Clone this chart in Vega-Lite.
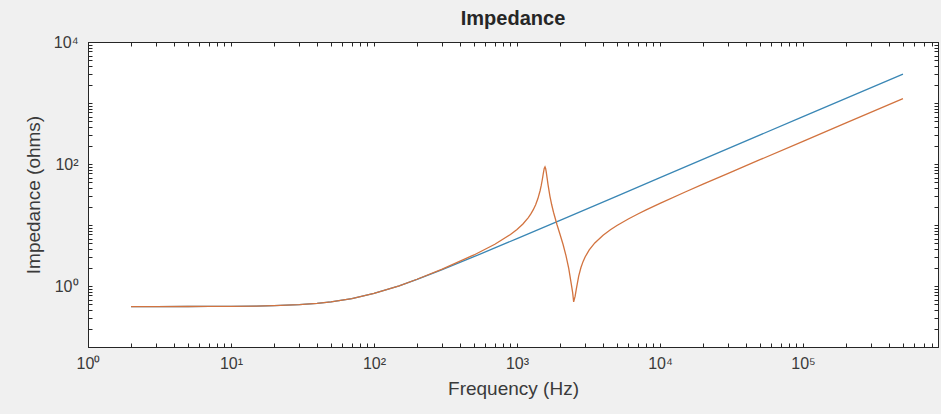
{
  "$schema": "https://vega.github.io/schema/vega-lite/v6.json",
  "width": 850,
  "height": 305,
  "autosize": "none",
  "padding": {"left": 88, "top": 42, "right": 3, "bottom": 67},
  "background": "#f0f0f0",
  "title": {"text": "Impedance", "font": "Liberation Sans", "fontSize": 20, "fontWeight": "bold", "color": "#262626", "offset": 5},
  "config": {
    "view": {"fill": "white", "stroke": "#262626", "strokeWidth": 1},
    "axis": {
      "labelFont": "Liberation Sans", "titleFont": "Liberation Sans",
      "labelFontSize": 16, "titleFontSize": 19, "titleFontWeight": "normal",
      "labelColor": "#3a3a3a", "titleColor": "#3a3a3a",
      "domainColor": "#262626", "tickColor": "#262626",
      "grid": false, "tickSize": -4, "labelOverlap": false, "labelFlush": false
    }
  },
  "data": {"values": [
    {"series": "A", "f": 2, "z": 0.4601}, {"series": "A", "f": 3, "z": 0.4603}, {"series": "A", "f": 5, "z": 0.461},
    {"series": "A", "f": 7, "z": 0.4619}, {"series": "A", "f": 10, "z": 0.4639}, {"series": "A", "f": 15, "z": 0.4686},
    {"series": "A", "f": 20, "z": 0.4753}, {"series": "A", "f": 30, "z": 0.4936}, {"series": "A", "f": 40, "z": 0.5183},
    {"series": "A", "f": 50, "z": 0.5484}, {"series": "A", "f": 70, "z": 0.6214}, {"series": "A", "f": 100, "z": 0.7536},
    {"series": "A", "f": 150, "z": 1.0066}, {"series": "A", "f": 200, "z": 1.2795}, {"series": "A", "f": 300, "z": 1.849},
    {"series": "A", "f": 500, "z": 3.02}, {"series": "A", "f": 700, "z": 4.203}, {"series": "A", "f": 1000, "z": 5.987},
    {"series": "A", "f": 2000, "z": 11.95}, {"series": "A", "f": 5000, "z": 29.85}, {"series": "A", "f": 10000, "z": 59.69},
    {"series": "A", "f": 100000, "z": 596.9}, {"series": "A", "f": 500000, "z": 2984.5},
    {"series": "B", "f": 2, "z": 0.4601}, {"series": "B", "f": 3, "z": 0.4603}, {"series": "B", "f": 5, "z": 0.461},
    {"series": "B", "f": 7, "z": 0.4619}, {"series": "B", "f": 10, "z": 0.4639}, {"series": "B", "f": 15, "z": 0.4686},
    {"series": "B", "f": 20, "z": 0.4753}, {"series": "B", "f": 30, "z": 0.4936}, {"series": "B", "f": 40, "z": 0.5183},
    {"series": "B", "f": 50, "z": 0.5484}, {"series": "B", "f": 70, "z": 0.6214}, {"series": "B", "f": 100, "z": 0.7536},
    {"series": "B", "f": 150, "z": 1.0066}, {"series": "B", "f": 200, "z": 1.2905}, {"series": "B", "f": 300, "z": 1.889},
    {"series": "B", "f": 500, "z": 3.227}, {"series": "B", "f": 700, "z": 4.836}, {"series": "B", "f": 900, "z": 6.987},
    {"series": "B", "f": 1000, "z": 8.452}, {"series": "B", "f": 1100, "z": 10.4}, {"series": "B", "f": 1200, "z": 13.22},
    {"series": "B", "f": 1250, "z": 15.2}, {"series": "B", "f": 1300, "z": 17.83}, {"series": "B", "f": 1350, "z": 21.52},
    {"series": "B", "f": 1400, "z": 27.1}, {"series": "B", "f": 1450, "z": 36.43}, {"series": "B", "f": 1475, "z": 43.76},
    {"series": "B", "f": 1500, "z": 54.14}, {"series": "B", "f": 1515, "z": 62.29}, {"series": "B", "f": 1530, "z": 71.82},
    {"series": "B", "f": 1550, "z": 84.4}, {"series": "B", "f": 1570, "z": 89.54}, {"series": "B", "f": 1585, "z": 84.74},
    {"series": "B", "f": 1600, "z": 75.08}, {"series": "B", "f": 1625, "z": 58.02}, {"series": "B", "f": 1650, "z": 45.07},
    {"series": "B", "f": 1700, "z": 29.58}, {"series": "B", "f": 1750, "z": 21.26}, {"series": "B", "f": 1800, "z": 16.18},
    {"series": "B", "f": 1900, "z": 10.3}, {"series": "B", "f": 2000, "z": 6.973}, {"series": "B", "f": 2100, "z": 4.79},
    {"series": "B", "f": 2200, "z": 3.15}, {"series": "B", "f": 2300, "z": 1.95}, {"series": "B", "f": 2400, "z": 1.05},
    {"series": "B", "f": 2450, "z": 0.78}, {"series": "B", "f": 2490, "z": 0.55}, {"series": "B", "f": 2550, "z": 0.68},
    {"series": "B", "f": 2600, "z": 0.9}, {"series": "B", "f": 2700, "z": 1.45}, {"series": "B", "f": 2800, "z": 2.012},
    {"series": "B", "f": 2900, "z": 2.531}, {"series": "B", "f": 3000, "z": 3.016}, {"series": "B", "f": 3200, "z": 3.902},
    {"series": "B", "f": 3500, "z": 5.082}, {"series": "B", "f": 4000, "z": 6.809}, {"series": "B", "f": 4500, "z": 8.362},
    {"series": "B", "f": 5000, "z": 9.816}, {"series": "B", "f": 6000, "z": 12.55}, {"series": "B", "f": 7000, "z": 15.16},
    {"series": "B", "f": 8000, "z": 17.7}, {"series": "B", "f": 10000, "z": 22.65}, {"series": "B", "f": 15000, "z": 34.74},
    {"series": "B", "f": 20000, "z": 46.68}, {"series": "B", "f": 30000, "z": 70.39}, {"series": "B", "f": 50000, "z": 117.6},
    {"series": "B", "f": 100000, "z": 235.5}, {"series": "B", "f": 200000, "z": 471.2}, {"series": "B", "f": 500000, "z": 1178}
  ]},
  "layer": [
    {
      "mark": {"type": "line", "strokeWidth": 1.3, "clip": true},
      "encoding": {
        "x": {"field": "f", "type": "quantitative",
          "scale": {"type": "log", "domain": [1, 879000], "nice": false},
          "axis": {"orient": "bottom", "title": "Frequency (Hz)", "labelPadding": 12, "titlePadding": 8,
            "values": [1,2,3,4,5,6,7,8,9,10,20,30,40,50,60,70,80,90,100,200,300,400,500,600,700,800,900,1000,2000,3000,4000,5000,6000,7000,8000,9000,10000,20000,30000,40000,50000,60000,70000,80000,90000,100000,200000,300000,400000,500000,600000,700000,800000],
            "labelExpr": "abs(log(datum.value)/LN10 - round(log(datum.value)/LN10)) < 0.001 ? '10' + ['⁰','¹','²','³','⁴','⁵','⁶'][round(log(datum.value)/LN10)] : ''"}},
        "y": {"field": "z", "type": "quantitative",
          "scale": {"type": "log", "domain": [0.1, 10000], "nice": false},
          "axis": {"orient": "left", "title": "Impedance (ohms)", "labelPadding": 14, "titlePadding": 10,
            "values": [0.2,0.3,0.4,0.5,0.6,0.7,0.8,0.9,1,2,3,4,5,6,7,8,9,10,20,30,40,50,60,70,80,90,100,200,300,400,500,600,700,800,900,1000,2000,3000,4000,5000,6000,7000,8000,9000,10000],
            "labelExpr": "(abs(log(datum.value)/LN10 - round(log(datum.value)/LN10)) < 0.001 && round(log(datum.value)/LN10) >= 0 && round(log(datum.value)/LN10) % 2 == 0) ? '10' + ['⁰','¹','²','³','⁴','⁵','⁶'][round(log(datum.value)/LN10)] : ''"}},
        "color": {"field": "series", "type": "nominal", "scale": {"domain": ["A", "B"], "range": ["#3a87b5", "#d2733f"]}, "legend": null},
        "order": {"field": "f", "type": "quantitative"}
      }
    },
    {
      "mark": {"type": "line", "opacity": 0},
      "encoding": {
        "x": {"field": "f", "type": "quantitative",
          "axis": {"orient": "top", "title": null, "labels": false,
            "values": [1,2,3,4,5,6,7,8,9,10,20,30,40,50,60,70,80,90,100,200,300,400,500,600,700,800,900,1000,2000,3000,4000,5000,6000,7000,8000,9000,10000,20000,30000,40000,50000,60000,70000,80000,90000,100000,200000,300000,400000,500000,600000,700000,800000]}},
        "y": {"field": "z", "type": "quantitative",
          "axis": {"orient": "right", "title": null, "labels": false,
            "values": [0.2,0.3,0.4,0.5,0.6,0.7,0.8,0.9,1,2,3,4,5,6,7,8,9,10,20,30,40,50,60,70,80,90,100,200,300,400,500,600,700,800,900,1000,2000,3000,4000,5000,6000,7000,8000,9000,10000]}},
        "detail": {"field": "series", "type": "nominal"}
      }
    }
  ],
  "resolve": {"axis": {"x": "independent", "y": "independent"}}
}
